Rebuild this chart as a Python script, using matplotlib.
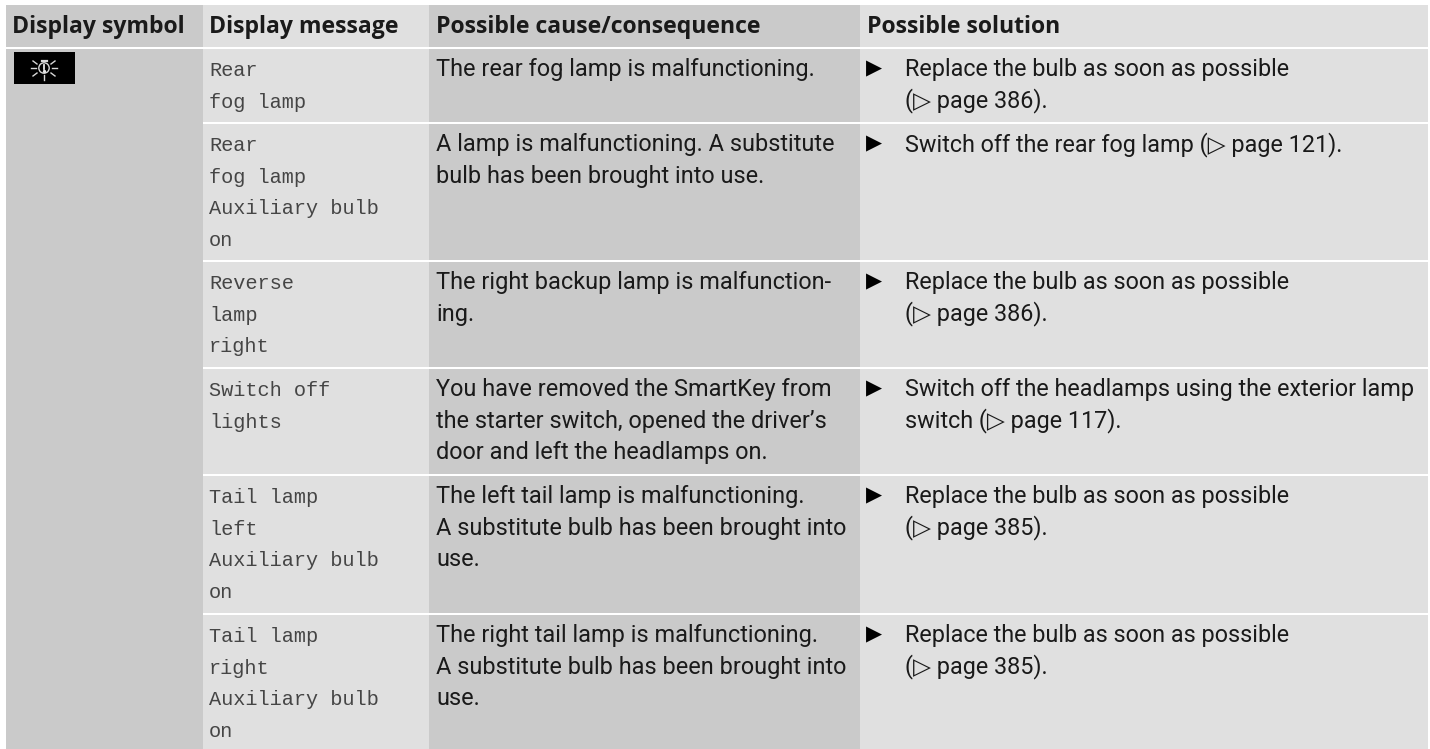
#!/usr/bin/env python3
import matplotlib
matplotlib.use('Agg')
import matplotlib.pyplot as plt
from matplotlib.patches import Rectangle

plt.rcParams['font.family'] = ['Roboto', 'DejaVu Sans']

# table contents
headers = ['Display symbol', 'Display message', 'Possible cause/consequence', 'Possible solution']

messages = [
    ['Rear', 'fog lamp'],
    ['Rear', 'fog lamp', 'Auxiliary bulb', 'on'],
    ['Reverse', 'lamp', 'right'],
    ['Switch off', 'lights'],
    ['Tail lamp', 'left', 'Auxiliary bulb', 'on'],
    ['Tail lamp', 'right', 'Auxiliary bulb', 'on'],
]
causes = [
    ['The rear fog lamp is malfunctioning.'],
    ['A lamp is malfunctioning. A substitute', 'bulb has been brought into use.'],
    ['The right backup lamp is malfunction-', 'ing.'],
    ['You have removed the SmartKey from', 'the starter switch, opened the driver\u2019s', 'door and left the headlamps on.'],
    ['The left tail lamp is malfunctioning.', 'A substitute bulb has been brought into', 'use.'],
    ['The right tail lamp is malfunctioning.', 'A substitute bulb has been brought into', 'use.'],
]
solutions = [
    ['Replace the bulb as soon as possible', '(\u25b7 page 386).'],
    ['Switch off the rear fog lamp (\u25b7 page 121).'],
    ['Replace the bulb as soon as possible', '(\u25b7 page 386).'],
    ['Switch off the headlamps using the exterior lamp', 'switch (\u25b7 page 117).'],
    ['Replace the bulb as soon as possible', '(\u25b7 page 385).'],
    ['Replace the bulb as soon as possible', '(\u25b7 page 385).'],
]

# layout in reference pixels
col_edges = [6, 203, 429, 860, 1428]
col_text = [12, 209, 436, 905]
header_x = [12, 209, 436, 867]
row_tops = [49, 124, 262, 369, 476, 615]
row_bottoms = [122, 260, 367, 474, 613, 749]
line_h = 31.7
dark = '#cacaca'
light = '#e0e0e0'
ink = '#1a1a1a'

fig = plt.figure(figsize=(14.3, 7.49), dpi=100)
ax = fig.add_axes([0, 0, 1, 1])
ax.set_xlim(0, 1430)
ax.set_ylim(749, 0)
ax.axis('off')


def band(x0, x1, y0, y1, color):
    ax.add_patch(Rectangle((x0, y0), x1 - x0, y1 - y0, fc=color, ec='none'))


# header
for k, color in enumerate([dark, light, dark, light]):
    band(col_edges[k], col_edges[k + 1], 5, 47, color)
for x, h in zip(header_x, headers):
    ax.text(x, 33, h, fontsize=16.6, fontweight='bold', family=['Open Sans', 'DejaVu Sans'],
            color=ink, va='baseline')

# first column runs the full height
band(col_edges[0], col_edges[1], 49, 749, dark)

for i, top in enumerate(row_tops):
    bottom = row_bottoms[i]
    band(col_edges[1], col_edges[2], top, bottom, light)
    band(col_edges[2], col_edges[3], top, bottom, dark)
    band(col_edges[3], col_edges[4], top, bottom, light)
    base = top + 27
    for j, line in enumerate(messages[i]):
        ax.text(col_text[1], base + j * line_h, line, fontsize=14.6,
                family='Liberation Mono', color='#454545', va='baseline')
    for j, line in enumerate(causes[i]):
        ax.text(col_text[2], base + j * line_h, line, fontsize=16.9, color=ink, va='baseline')
    ax.text(866, base - 2, '\u25b6', fontsize=15, color='black', va='baseline',
            family='DejaVu Sans')
    for j, line in enumerate(solutions[i]):
        ax.text(col_text[3], base + j * line_h, line, fontsize=16.8, color=ink, va='baseline')

# warning lamp symbol
band(14, 75, 52, 84, 'black')
cx, cy = 44, 68
ax.add_patch(plt.Circle((cx, cy), 5.2, fc='none', ec='#d8d8d8', lw=1))
ax.plot([cx, cx], [cy - 3.2, cy + 1], color='#e8e8e8', lw=1.3)
ax.plot([cx], [cy + 2.8], marker='o', ms=1.4, color='#e8e8e8')
ax.plot([cx - 2.5, cx + 2.5], [cy - 7, cy - 7], color='#d8d8d8', lw=1.6)
for x0, y0, x1, y1 in [(-13, 0, -8, 0), (8, 0, 13, 0), (-11, -7, -7, -4), (7, -4, 11, -7),
                       (-11, 8, -7, 5), (7, 5, 11, 8), (0, 7, 0, 12)]:
    ax.plot([cx + x0, cx + x1], [cy + y0, cy + y1], color='#d8d8d8', lw=1)

fig.savefig('out.png', dpi=100, facecolor='white')
plt.close(fig)
